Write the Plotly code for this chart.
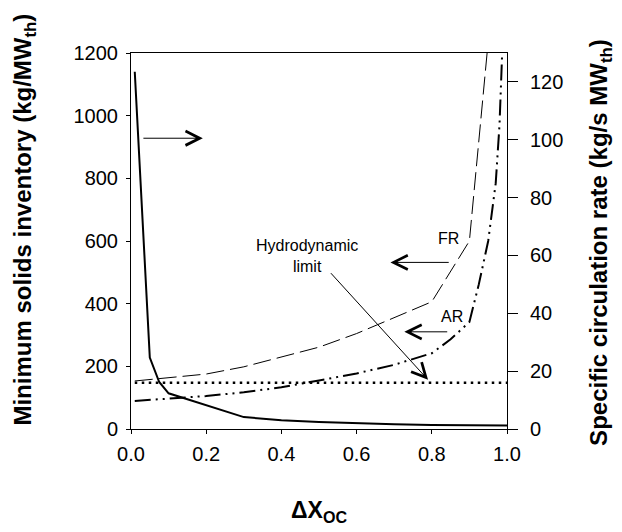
import plotly.graph_objects as go

# ---------------- data ----------------
inv_x = [0.01, 0.05, 0.075, 0.1, 0.3, 0.4, 0.5, 0.6, 0.7, 0.8, 0.9, 1.0]
inv_y = [1140, 228, 150, 114, 38, 28, 22, 18, 15, 13, 12, 11]

fr_x = [0.01, 0.1, 0.2, 0.3, 0.4, 0.5, 0.6, 0.7, 0.8, 0.9, 0.95]
fr_y = [16.6, 17.7, 19.0, 21.5, 24.8, 28.3, 33.0, 38.5, 44.0, 65.0, 134.0]

ar_x = [0.01, 0.1, 0.2, 0.3, 0.4, 0.5, 0.6, 0.7, 0.8, 0.85, 0.9, 0.925, 0.95, 0.97, 0.98, 0.99]
ar_y = [9.7, 10.4, 11.4, 12.7, 14.4, 16.8, 19.2, 22.2, 26.2, 31.0, 37.0, 50.0, 65.0, 85.0, 105.0, 140.0]

hydro_x = [0.01, 1.0]
hydro_y = [16.0, 16.0]

x_ticks = [0.0, 0.2, 0.4, 0.6, 0.8, 1.0]
y1_ticks = [0, 200, 400, 600, 800, 1000, 1200]
y2_ticks = [0, 20, 40, 60, 80, 100, 120]

FONT = "Liberation Sans, Arial, sans-serif"

fig = go.Figure()
fig.add_trace(go.Scatter(x=inv_x, y=inv_y, mode="lines",
                         line=dict(color="black", width=2), yaxis="y"))
fig.add_trace(go.Scatter(x=fr_x, y=fr_y, mode="lines",
                         line=dict(color="black", width=1, dash="18px,6px"), yaxis="y2"))
fig.add_trace(go.Scatter(x=ar_x, y=ar_y, mode="lines",
                         line=dict(color="black", width=2, dash="16px,5px,2px,5px,2px,5px"), yaxis="y2"))
fig.add_trace(go.Scatter(x=hydro_x, y=hydro_y, mode="lines",
                         line=dict(color="black", width=2.5, dash="2.5px,4.5px"), yaxis="y2"))

AR_STYLE = dict(showarrow=True, arrowhead=5, arrowsize=2.8, arrowwidth=1, arrowcolor="black", text="")
TXT = dict(family=FONT, size=16, color="black")

# arrow pointing to right axis (inventory curve)
fig.add_annotation(x=0.191, y=928, ax=0.029, ay=928, xref="x", yref="y", axref="x", ayref="y", **AR_STYLE)
# FR
fig.add_annotation(x=0.69, y=57.6, ax=0.849, ay=57.6, xref="x", yref="y2", axref="x", ayref="y2", **AR_STYLE)
fig.add_annotation(x=0.845, y=66.0, xref="x", yref="y2", text="FR", showarrow=False, font=TXT)
# AR
fig.add_annotation(x=0.727, y=33.6, ax=0.845, ay=33.6, xref="x", yref="y2", axref="x", ayref="y2", **AR_STYLE)
fig.add_annotation(x=0.854, y=38.8, xref="x", yref="y2", text="AR", showarrow=False, font=TXT)
# Hydrodynamic limit
fig.add_annotation(x=0.467, y=59.8, xref="x", yref="y2", text="Hydrodynamic<br>limit", showarrow=False, font=TXT)
fig.add_annotation(x=0.79, y=17.0, ax=0.528, ay=54.4, xref="x", yref="y2", axref="x", ayref="y2", **AR_STYLE)

# axis titles
fig.add_annotation(xref="paper", yref="paper", x=-0.283, y=0.556, xanchor="center", yanchor="middle",
                   text="<b>Minimum solids inventory (kg/MW<sub>th</sub>)</b>",
                   textangle=-90, showarrow=False, font=dict(family=FONT, size=24, color="black"))
fig.add_annotation(xref="paper", yref="paper", x=1.25, y=0.495, xanchor="center", yanchor="middle",
                   text="<b>Specific circulation rate (kg/s MW<sub>th</sub>)</b>",
                   textangle=-90, showarrow=False, font=dict(family=FONT, size=24, color="black"))
fig.add_annotation(xref="paper", yref="paper", x=0.5, y=-0.22, xanchor="center", yanchor="middle",
                   text="<b>ΔX<sub>OC</sub></b>",
                   showarrow=False, font=dict(family=FONT, size=23, color="black"))

axis_common = dict(showgrid=False, zeroline=False, showline=True, linecolor="black", linewidth=1,
                   ticks="outside", tickcolor="black", tickwidth=1,
                   tickfont=dict(family=FONT, size=20, color="black"))

fig.update_layout(
    width=622, height=532,
    margin=dict(l=131, r=115, t=53, b=103),
    paper_bgcolor="white", plot_bgcolor="white",
    showlegend=False,
    xaxis=dict(range=[0, 1.0], tickvals=x_ticks, tickformat=".1f", ticklen=4, mirror=True,
               ticklabelstandoff=3, **axis_common),
    yaxis=dict(range=[0, 1200], tickvals=y1_ticks, ticklen=4, ticklabelstandoff=4, **axis_common),
    yaxis2=dict(range=[0, 130], tickvals=y2_ticks, ticklen=10, overlaying="y", side="right",
                ticklabelstandoff=8, **axis_common),
)

fig.write_html("out.html")
